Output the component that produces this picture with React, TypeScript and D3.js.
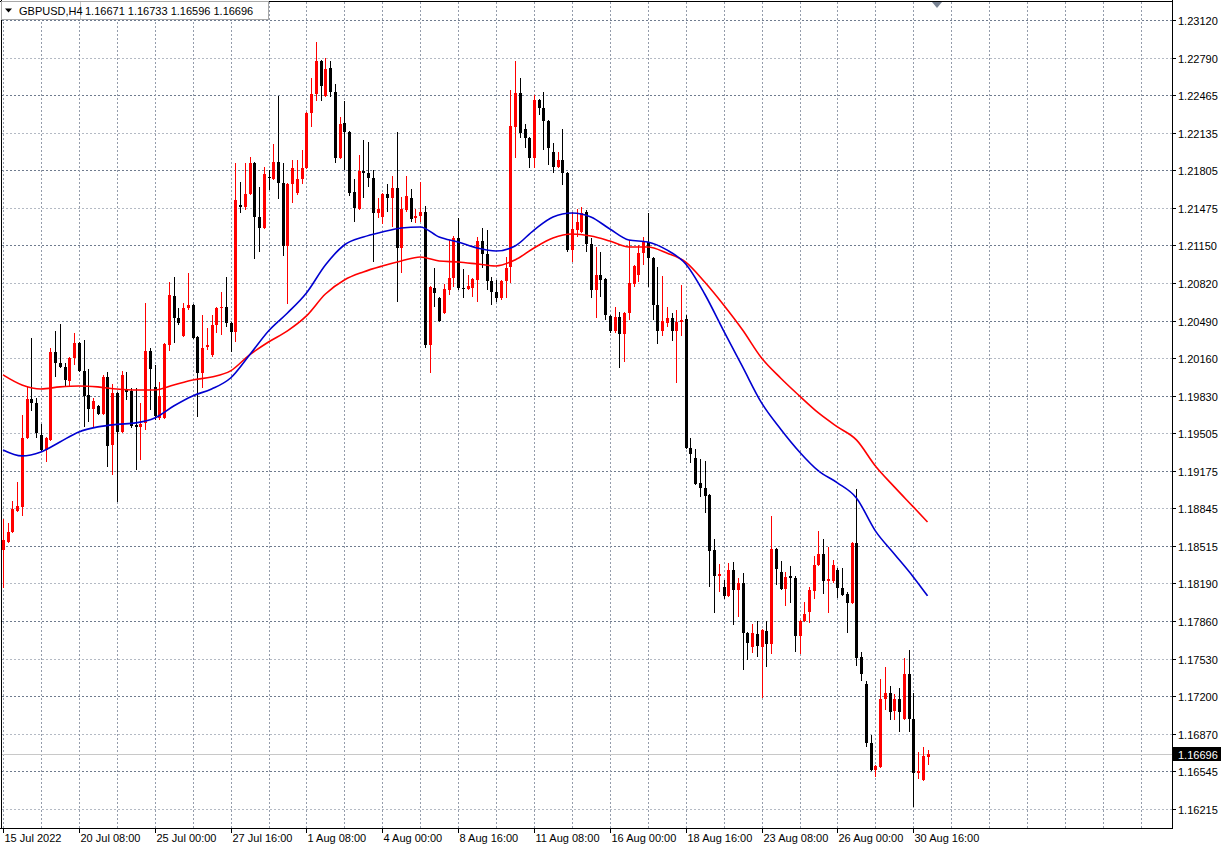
import React, { useEffect, useRef } from "react";
import * as d3 from "d3";

// GBPUSD H4 candles, bar 0 = 15 Jul 2022 16:00
const opens = [
  1.18482, 1.18552, 1.1864, 1.18824, 1.18859, 1.19462, 1.19804, 1.19769, 1.19489, 1.19357,
  1.19445, 1.20215, 1.20119, 1.20084, 1.19961, 1.20162, 1.20294, 1.20049, 1.19839, 1.19716,
  1.19742, 1.19672, 1.19996, 1.19401, 1.19856, 1.19515, 1.19891, 1.19874, 1.19576, 1.19559,
  1.19594, 1.20224, 1.19909, 1.19637, 1.19637, 1.20276, 1.20705, 1.20512, 1.20355, 1.206,
  1.20626, 1.20346, 1.20031, 1.20259, 1.20189, 1.20451, 1.206, 1.20609, 1.20469, 1.2039,
  1.21501, 1.21484, 1.21597, 1.21869, 1.21396, 1.213, 1.21746, 1.21729, 1.21877, 1.21694,
  1.21142, 1.21685, 1.21606, 1.21729, 1.21825, 1.22306, 1.22472, 1.22761, 1.22455, 1.227,
  1.2249, 1.21912, 1.22219, 1.2214, 1.21615, 1.21466, 1.21799, 1.21781, 1.21737, 1.21431,
  1.21396, 1.21597, 1.21562, 1.2165, 1.21125, 1.21457, 1.21562, 1.21387, 1.21405, 1.2144,
  1.20276, 1.20775, 1.20687, 1.20556, 1.20757, 1.20862, 1.21212, 1.20775, 1.20766, 1.20775,
  1.20845, 1.21186, 1.21072, 1.20836, 1.2074, 1.20687, 1.20836, 1.20959, 1.22184, 1.22481,
  1.22166, 1.22087, 1.21912, 1.2242, 1.2235, 1.22236, 1.21965, 1.21834, 1.21895, 1.21781,
  1.21108, 1.21282, 1.21265, 1.2144, 1.2116, 1.20757, 1.20889, 1.20854, 1.2053, 1.20399,
  1.20521, 1.20372, 1.20556, 1.2081, 1.20889, 1.21081, 1.21177, 1.21037, 1.20626, 1.20399,
  1.20469, 1.20512, 1.20399, 1.20477, 1.20504, 1.19375, 1.19287, 1.19069, 1.19025, 1.18964,
  1.18482, 1.18255, 1.18159, 1.1808, 1.18307, 1.18132, 1.18194, 1.17756, 1.17634, 1.17747,
  1.17634, 1.17774, 1.1766, 1.18491, 1.1829, 1.18141, 1.18255, 1.18237, 1.1773, 1.17861,
  1.1794, 1.18124, 1.18351, 1.18447, 1.18211, 1.18211, 1.18307, 1.1815, 1.18097, 1.18019,
  1.18544, 1.17546, 1.1731, 1.16794, 1.16557, 1.16584, 1.17179, 1.17231, 1.17074, 1.17179,
  1.17004, 1.17397, 1.17004, 1.16531, 1.1647, 1.16671,
];
const highs = [
  1.18754, 1.18719, 1.18911, 1.19077, 1.19664, 1.19917, 1.20337, 1.19812, 1.19585, 1.19471,
  1.2025, 1.20399, 1.2046, 1.20119, 1.20171, 1.20381, 1.20302, 1.2032, 1.20066, 1.19812,
  1.19751, 1.20014, 1.2004, 1.19935, 1.19865, 1.20049, 1.2004, 1.199, 1.199, 1.19769,
  1.20644, 1.2025, 1.20101, 1.19952, 1.20294, 1.20827, 1.20871, 1.206, 1.20644, 1.20906,
  1.20635, 1.20355, 1.20539, 1.20425, 1.20539, 1.20609, 1.2074, 1.20871, 1.20477, 1.21869,
  1.21702, 1.21869, 1.21921, 1.21877, 1.21659, 1.21834, 1.21807, 1.22035, 1.22455, 1.21869,
  1.21694, 1.21895, 1.21895, 1.21982, 1.22315, 1.22612, 1.22927, 1.2277, 1.22787, 1.22761,
  1.2256, 1.22271, 1.22411, 1.22149, 1.21729, 1.21939, 1.2207, 1.22052, 1.21807, 1.21562,
  1.21606, 1.21685, 1.21755, 1.2214, 1.21571, 1.21755, 1.21641, 1.21466, 1.21702, 1.21492,
  1.20792, 1.2095, 1.20696, 1.2081, 1.21195, 1.2123, 1.21387, 1.20941, 1.20889, 1.20862,
  1.21221, 1.213, 1.21282, 1.20871, 1.20845, 1.20845, 1.21046, 1.22507, 1.22761, 1.22612,
  1.2221, 1.22096, 1.22464, 1.22429, 1.2249, 1.22245, 1.22044, 1.21965, 1.22166, 1.2179,
  1.2144, 1.21466, 1.21484, 1.21457, 1.21212, 1.21134, 1.2109, 1.20862, 1.20539, 1.20609,
  1.20565, 1.20565, 1.21195, 1.20976, 1.21151, 1.21221, 1.21431, 1.21046, 1.20959, 1.2088,
  1.20609, 1.20556, 1.20582, 1.20801, 1.20539, 1.19462, 1.19366, 1.19279, 1.19261, 1.18972,
  1.18579, 1.1836, 1.1822, 1.18369, 1.18377, 1.18237, 1.18281, 1.17765, 1.17835, 1.17861,
  1.17791, 1.17861, 1.1878, 1.185, 1.18386, 1.1829, 1.18342, 1.18255, 1.1787, 1.18027,
  1.18159, 1.1843, 1.18649, 1.18579, 1.18509, 1.18395, 1.18325, 1.18325, 1.18115, 1.18552,
  1.19016, 1.1759, 1.17336, 1.16864, 1.16601, 1.17354, 1.17459, 1.17292, 1.17222, 1.17275,
  1.17537, 1.17607, 1.17231, 1.16715, 1.16759, 1.16733,
];
const lows = [
  1.1815, 1.18544, 1.18631, 1.18815, 1.1878, 1.19454, 1.19699, 1.19462, 1.19349, 1.19252,
  1.19436, 1.19996, 1.20075, 1.19909, 1.19909, 1.20101, 1.2004, 1.19559, 1.19602, 1.19559,
  1.19664, 1.19664, 1.19209, 1.19139, 1.18902, 1.19506, 1.19795, 1.1955, 1.19182, 1.1927,
  1.19532, 1.19707, 1.1962, 1.1962, 1.19629, 1.20224, 1.20294, 1.20451, 1.20346, 1.20582,
  1.20329, 1.19646, 1.199, 1.20232, 1.20171, 1.20381, 1.20364, 1.20434, 1.20215, 1.20302,
  1.21431, 1.21457, 1.21589, 1.21029, 1.2109, 1.21291, 1.21632, 1.2172, 1.21554, 1.21055,
  1.20635, 1.21519, 1.21589, 1.21685, 1.21816, 1.22184, 1.22411, 1.22411, 1.22446, 1.22446,
  1.21869, 1.21904, 1.21807, 1.2158, 1.21352, 1.21457, 1.21562, 1.21659, 1.21002, 1.21387,
  1.21335, 1.2144, 1.21309, 1.20652, 1.20906, 1.2144, 1.21352, 1.21344, 1.21352, 1.2025,
  1.20031, 1.20609, 1.20477, 1.20547, 1.20714, 1.20784, 1.20757, 1.20687, 1.20757, 1.20696,
  1.20652, 1.2095, 1.20757, 1.20626, 1.20652, 1.2067, 1.20687, 1.20819, 1.21912, 1.22087,
  1.22, 1.21825, 1.21825, 1.22289, 1.21982, 1.21851, 1.21781, 1.21825, 1.21676, 1.2109,
  1.21002, 1.21221, 1.21256, 1.2109, 1.20687, 1.20512, 1.20696, 1.20495, 1.20381, 1.20381,
  1.20075, 1.20127, 1.20495, 1.20784, 1.20827, 1.20976, 1.20784, 1.20495, 1.20285, 1.20355,
  1.20434, 1.20311, 1.19944, 1.20355, 1.19366, 1.19244, 1.19051, 1.18946, 1.18806, 1.18159,
  1.17931, 1.18115, 1.18054, 1.18071, 1.17826, 1.17896, 1.17432, 1.1752, 1.17581, 1.17546,
  1.17187, 1.17459, 1.17572, 1.18176, 1.18132, 1.17992, 1.18019, 1.1759, 1.17572, 1.17852,
  1.17844, 1.18054, 1.18342, 1.18097, 1.17931, 1.18194, 1.18062, 1.1808, 1.17756, 1.1801,
  1.17467, 1.17336, 1.16759, 1.16549, 1.16496, 1.16575, 1.17082, 1.16995, 1.16995, 1.1689,
  1.16995, 1.1689, 1.16234, 1.16479, 1.16461, 1.16596,
];
const closes = [
  1.1857, 1.1864, 1.18841, 1.18867, 1.19462, 1.19804, 1.19769, 1.19506, 1.19357, 1.19462,
  1.20215, 1.20119, 1.20084, 1.1997, 1.20162, 1.20294, 1.20049, 1.1983, 1.19716, 1.19786,
  1.19672, 1.19996, 1.19392, 1.19856, 1.19515, 1.20014, 1.19865, 1.19567, 1.19559, 1.19585,
  1.20224, 1.20066, 1.19655, 1.1983, 1.20285, 1.20714, 1.20512, 1.20469, 1.206, 1.20626,
  1.20337, 1.20031, 1.2025, 1.20276, 1.20451, 1.206, 1.20609, 1.20469, 1.2039, 1.21545,
  1.21484, 1.21597, 1.21869, 1.21396, 1.213, 1.21772, 1.21737, 1.21877, 1.21694, 1.21142,
  1.21685, 1.21825, 1.21729, 1.21825, 1.22306, 1.22472, 1.22761, 1.22542, 1.22691, 1.2249,
  1.21912, 1.2221, 1.2214, 1.21606, 1.21475, 1.21799, 1.21781, 1.21737, 1.21431, 1.21466,
  1.21597, 1.21562, 1.2165, 1.21125, 1.21466, 1.2158, 1.21379, 1.21405, 1.2144, 1.20276,
  1.20784, 1.20731, 1.20486, 1.20766, 1.20862, 1.21212, 1.20775, 1.20766, 1.20792, 1.20854,
  1.21186, 1.21072, 1.20836, 1.2074, 1.20687, 1.20836, 1.2095, 1.22192, 1.22481, 1.22131,
  1.22087, 1.21912, 1.2242, 1.2235, 1.22236, 1.22, 1.21834, 1.21895, 1.21781, 1.21108,
  1.21291, 1.21352, 1.21431, 1.2116, 1.20757, 1.20889, 1.20845, 1.20539, 1.20399, 1.20521,
  1.20372, 1.20556, 1.20819, 1.20967, 1.21081, 1.21177, 1.21037, 1.20626, 1.20399, 1.20486,
  1.20512, 1.20399, 1.20477, 1.20495, 1.19375, 1.19322, 1.1906, 1.19025, 1.18955, 1.18474,
  1.18255, 1.18272, 1.1808, 1.18307, 1.18132, 1.18194, 1.17756, 1.17669, 1.17756, 1.17642,
  1.17782, 1.1766, 1.18491, 1.18316, 1.18141, 1.18246, 1.18237, 1.1773, 1.17861, 1.17922,
  1.18132, 1.18351, 1.18447, 1.18211, 1.18229, 1.18351, 1.1815, 1.18089, 1.18019, 1.18544,
  1.17537, 1.17397, 1.16794, 1.16557, 1.16592, 1.17179, 1.17231, 1.17065, 1.17179, 1.17065,
  1.17397, 1.17004, 1.16531, 1.16549, 1.1668, 1.16696,
];

// moving averages at these bar indices
const maBars = [
  0, 4, 8, 12, 16, 20, 24, 28, 32, 36, 40, 44, 48, 52, 56, 60, 64, 68, 72, 76,
  80, 84, 88, 92, 96, 100, 104, 108, 112, 116, 120, 124, 128, 132, 136, 140, 144, 148, 152, 156,
  160, 164, 168, 172, 176, 180, 184, 188, 192, 195,
];
const maBlue = [
  1.19357, 1.19305, 1.1934, 1.19427, 1.19515, 1.19559, 1.19581, 1.19594, 1.19637, 1.19742,
  1.1983, 1.19891, 1.19987, 1.20189, 1.20399, 1.20556, 1.20731, 1.20976, 1.21151, 1.21221,
  1.21265, 1.213, 1.21309, 1.21221, 1.21177, 1.21125, 1.21099, 1.21142, 1.21282, 1.21396,
  1.21431, 1.21396, 1.21291, 1.21195, 1.21177, 1.21108, 1.20985, 1.20722, 1.20399, 1.20084,
  1.19769, 1.19541, 1.1934, 1.19174, 1.19069, 1.18937, 1.18649, 1.18447, 1.18246, 1.1808,
];
const maRed = [
  1.20014, 1.19926, 1.19891, 1.19909, 1.19917, 1.19909, 1.19891, 1.19882, 1.19882, 1.19926,
  1.1997, 1.19996, 1.20049, 1.20189, 1.20302, 1.20399, 1.2053, 1.20722, 1.20845, 1.20915,
  1.20967, 1.21011, 1.21046, 1.21011, 1.21002, 1.20985, 1.20967, 1.2102, 1.21125, 1.21212,
  1.21247, 1.2123, 1.21186, 1.21134, 1.21134, 1.21081, 1.21002, 1.20827, 1.20626, 1.20407,
  1.20162, 1.19987, 1.1983, 1.19681, 1.19559, 1.19445, 1.19217, 1.19034, 1.18859, 1.18727,
];

const priceTicks = [
  1.2312, 1.2279, 1.22465, 1.22135, 1.21805, 1.21475, 1.2115, 1.2082, 1.2049, 1.2016, 1.1983,
  1.19505, 1.19175, 1.18845, 1.18515, 1.1819, 1.1786, 1.1753, 1.172, 1.1687, 1.16545, 1.16215,
];
const timeLabels = [
  "15 Jul 2022", "20 Jul 08:00", "25 Jul 00:00", "27 Jul 16:00", "1 Aug 08:00", "4 Aug 00:00",
  "8 Aug 16:00", "11 Aug 08:00", "16 Aug 00:00", "18 Aug 16:00", "23 Aug 08:00", "26 Aug 00:00",
  "30 Aug 16:00",
];
const timeLabelBars = [0, 16, 32, 48, 64, 80, 96, 112, 128, 144, 160, 176, 192];

const symbol = "GBPUSD,H4";
const quote = "1.16671 1.16733 1.16596 1.16696";
const lastPrice = 1.16696;

export default function App() {
  const svgRef = useRef(null);

  useEffect(() => {
    const W = 1232;
    const H = 848;
    const plotRight = 1172;
    const plotBottom = 828;

    const svg = d3.select(svgRef.current)
      .attr("width", W)
      .attr("height", H)
      .style("font-family", '"Liberation Sans", Arial, sans-serif')
      .style("font-size", "11px");

    svg.selectAll("*").remove();

    const x = d3.scaleLinear().domain([0, 192]).range([3, 913.3]);
    const y = d3.scaleLinear().domain([1.16215, 1.2312]).range([809, 20]);

    svg.append("rect").attr("width", W).attr("height", H).attr("fill", "#ffffff");

    // grid
    const grid = svg.append("g").attr("shape-rendering", "crispEdges");
    priceTicks.forEach((p, i) => {
      const yy = Math.round(y(p)) + 0.5;
      grid.append("line")
        .attr("x1", 2).attr("x2", plotRight)
        .attr("y1", yy).attr("y2", yy)
        .attr("stroke", i % 2 === 0 ? "#6f7b8e" : "#b4bac4")
        .attr("stroke-dasharray", "2,2");
    });
    d3.range(0, 250, 8).filter(b => x(b) < plotRight - 2).forEach(b => {
      const xx = Math.round(x(b)) + 0.5;
      grid.append("line")
        .attr("x1", xx).attr("x2", xx)
        .attr("y1", 2).attr("y2", plotBottom)
        .attr("stroke", "#949cab")
        .attr("stroke-dasharray", "2,2");
    });

    // current price line
    const lastY = Math.round(y(lastPrice)) + 0.5;
    svg.append("line")
      .attr("x1", 2).attr("x2", plotRight)
      .attr("y1", lastY).attr("y2", lastY)
      .attr("stroke", "#c8c8c8")
      .attr("shape-rendering", "crispEdges");

    // candles
    const candles = svg.append("g").attr("shape-rendering", "crispEdges");
    opens.forEach((o, i) => {
      const c = closes[i];
      const color = c > o ? "#ff0000" : "#000000";
      const cx = Math.round(x(i));
      candles.append("line")
        .attr("x1", cx + 0.5).attr("x2", cx + 0.5)
        .attr("y1", y(highs[i])).attr("y2", y(lows[i]))
        .attr("stroke", color);
      const top = y(Math.max(o, c));
      const bot = y(Math.min(o, c));
      candles.append("rect")
        .attr("x", cx - 1).attr("width", 3)
        .attr("y", top).attr("height", Math.max(1, bot - top))
        .attr("fill", color);
    });

    // moving averages
    const ma = d3.line<number>()
      .x((_, k) => x(maBars[k]))
      .y(v => y(v))
      .curve(d3.curveMonotoneX);
    svg.append("path").attr("d", ma(maRed)).attr("fill", "none")
      .attr("stroke", "#ff0000").attr("stroke-width", 1.6);
    svg.append("path").attr("d", ma(maBlue)).attr("fill", "none")
      .attr("stroke", "#0000d0").attr("stroke-width", 1.6);

    // frame + axes lines
    const frame = svg.append("g").attr("shape-rendering", "crispEdges").attr("stroke", "#000");
    frame.append("line").attr("x1", 1.5).attr("x2", 1.5).attr("y1", 0).attr("y2", plotBottom);
    frame.append("line").attr("x1", 0).attr("x2", plotRight).attr("y1", 1.5).attr("y2", 1.5);
    frame.append("line").attr("x1", plotRight + 0.5).attr("x2", plotRight + 0.5).attr("y1", 0).attr("y2", plotBottom + 1);
    frame.append("line").attr("x1", 0).attr("x2", plotRight + 1).attr("y1", plotBottom + 0.5).attr("y2", plotBottom + 0.5);

    // price axis
    priceTicks.forEach(p => {
      const yy = Math.round(y(p)) + 0.5;
      frame.append("line").attr("x1", plotRight).attr("x2", plotRight + 4).attr("y1", yy).attr("y2", yy);
      svg.append("text")
        .attr("x", 1178).attr("y", yy + 4)
        .attr("fill", "#000")
        .text(p.toFixed(5));
    });

    // last price tag
    svg.append("rect")
      .attr("x", plotRight + 1).attr("y", lastY - 7.5)
      .attr("width", 48).attr("height", 14)
      .attr("fill", "#000");
    svg.append("text")
      .attr("x", 1178).attr("y", lastY + 4)
      .attr("fill", "#fff")
      .text(lastPrice.toFixed(5));

    // time axis
    timeLabelBars.forEach((b, k) => {
      const xx = Math.round(x(b)) + 0.5;
      frame.append("line").attr("x1", xx).attr("x2", xx).attr("y1", plotBottom).attr("y2", plotBottom + 5);
      svg.append("text")
        .attr("x", xx + 1).attr("y", 842)
        .attr("fill", "#000")
        .text(timeLabels[k]);
    });

    // chart shift marker
    svg.append("path").attr("d", "M932,2 L942,2 L937,8 Z").attr("fill", "#7a8494");

    // title box
    svg.append("rect")
      .attr("x", 1.5).attr("y", 1.5).attr("width", 267).attr("height", 18)
      .attr("fill", "#ffffff").attr("stroke", "#a8a8a8")
      .attr("shape-rendering", "crispEdges");
    svg.append("line")
      .attr("x1", 80.5).attr("x2", 80.5).attr("y1", 2).attr("y2", 19)
      .attr("stroke", "#c8c8c8").attr("shape-rendering", "crispEdges");
    svg.append("path").attr("d", "M5,8.5 L12,8.5 L8.5,12.5 Z").attr("fill", "#000");
    svg.append("text").attr("x", 19).attr("y", 15).attr("fill", "#000").text(symbol);
    svg.append("text").attr("x", 85).attr("y", 15).attr("fill", "#000").text(quote);
  }, []);

  return (
    <svg ref={svgRef} style={{ position: "absolute", left: 0, top: 0, display: "block" }} />
  );
}
